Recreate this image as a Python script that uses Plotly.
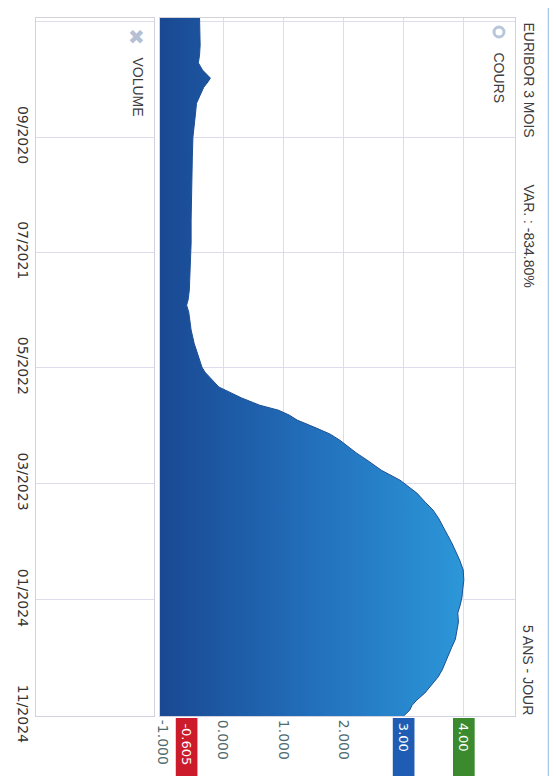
import plotly.graph_objects as go

# Euribor 3 mois, 5 ans - jour
dates = [
    "2019-10-24", "2019-11-25", "2020-01-03", "2020-01-29", "2020-02-19", "2020-03-09",
    "2020-03-22", "2020-03-30", "2020-04-09", "2020-04-23", "2020-05-14", "2020-06-04",
    "2020-07-05", "2020-07-31", "2020-09-01", "2020-10-24", "2020-12-15", "2021-02-14",
    "2021-04-07", "2021-06-07", "2021-07-21", "2021-09-04", "2021-10-08", "2021-11-03",
    "2021-11-17", "2021-12-05", "2021-12-26", "2022-01-21", "2022-02-25", "2022-03-23",
    "2022-04-10", "2022-04-29", "2022-05-12", "2022-05-25", "2022-06-07", "2022-06-20",
    "2022-07-03", "2022-07-19", "2022-08-07", "2022-08-20", "2022-09-02", "2022-09-15",
    "2022-10-06", "2022-10-22", "2022-11-07", "2022-11-25", "2022-12-11", "2022-12-29",
    "2023-01-25", "2023-02-20", "2023-03-10", "2023-03-26", "2023-04-19", "2023-05-10",
    "2023-05-31", "2023-06-23", "2023-07-14", "2023-08-04", "2023-08-28", "2023-09-18",
    "2023-10-14", "2023-11-10", "2023-12-06", "2023-12-24", "2024-01-14", "2024-02-04",
    "2024-02-28", "2024-03-20", "2024-04-13", "2024-05-04", "2024-05-25", "2024-06-15",
    "2024-07-03", "2024-07-22", "2024-08-04", "2024-08-17", "2024-09-02", "2024-09-20",
    "2024-10-04", "2024-10-17", "2024-11-01",
]
values = [
    -0.39, -0.38, -0.38, -0.39, -0.41, -0.34,
    -0.26, -0.21, -0.25, -0.32, -0.38, -0.44,
    -0.46, -0.48, -0.50, -0.51, -0.52, -0.53,
    -0.53, -0.53, -0.54, -0.55, -0.56, -0.58,
    -0.605, -0.57, -0.55, -0.53, -0.48, -0.43,
    -0.39, -0.35, -0.30, -0.22, -0.14, -0.07,
    0.10, 0.31, 0.61, 0.92, 1.10, 1.23,
    1.55, 1.78, 1.94, 2.08, 2.22, 2.39,
    2.63, 2.94, 3.08, 3.22, 3.36, 3.49,
    3.58, 3.66, 3.74, 3.80, 3.87, 3.93,
    3.99, 4.00, 3.98, 3.97, 3.94, 3.90,
    3.91, 3.89, 3.86, 3.80, 3.74, 3.69,
    3.64, 3.57, 3.50, 3.44, 3.35, 3.22,
    3.14, 3.10, 3.00,
]
value_ticks = [-1, 0, 1, 2, 3, 4]
value_tick_text = ["-1.000", "0.000", "1.000", "2.000", "", ""]

title = "EURIBOR 3 MOIS"
variation = "VAR. : -834.80%"
period = "5 ANS - JOUR"

# the page body keeps its 8px margin, so the figure starts at (8, 8)
OFF = 8
W, H = 557 - OFF, 776 - OFF
x_lo, x_hi = -1.047, 4.85
grid = "#dcdcec"
border = "#d2d2de"


def px(x):
    return (x - OFF) / W


def py(y):
    return 1 - (y - OFF) / H


fig = go.Figure()

# baseline at the left edge so the area fills from the axis start
fig.add_trace(go.Scatter(
    x=[x_lo] * len(dates), y=dates, mode="lines",
    line=dict(width=0), hoverinfo="skip", showlegend=False,
))
fig.add_trace(go.Scatter(
    x=values, y=dates, mode="lines",
    line=dict(color="#1d4f95", width=1),
    fill="tonextx",
    fillgradient=dict(
        type="horizontal",
        colorscale=[[0, "#1a4892"], [0.5, "#226fbb"], [1, "#2c97d8"]],
        start=x_lo, stop=max(values),
    ),
    showlegend=False,
))
# empty volume panel
fig.add_trace(go.Scatter(x=[None], y=[None], xaxis="x2", yaxis="y", showlegend=False))

fig.update_layout(
    width=W, height=H,
    margin=dict(l=0, r=0, t=0, b=0),
    paper_bgcolor="white",
    plot_bgcolor="white",
    xaxis=dict(
        domain=[px(160), px(515)], range=[x_lo, x_hi], anchor="y",
        tickvals=value_ticks, ticktext=value_tick_text, tickangle=90,
        tickfont=dict(family="DejaVu Sans", size=14, color="#4d6b6e"),
        showgrid=True, gridcolor=grid, zeroline=False,
        showline=True, linecolor=border, mirror=True,
        ticks="", automargin=False,
    ),
    xaxis2=dict(
        domain=[px(36), px(154)], range=[0, 1], anchor="y",
        showticklabels=False, showgrid=False, zeroline=False,
        showline=True, linecolor=border, mirror=True,
        ticks="", automargin=False,
    ),
    yaxis=dict(
        domain=[py(716), py(18)], type="date", range=[dates[-1], dates[0]],
        anchor="x2", tick0="2020-09-01", dtick="M10", tickformat="%m/%Y",
        tickangle=90,
        tickfont=dict(family="DejaVu Sans", size=14, color="#333333"),
        showgrid=True, gridcolor=grid, zeroline=False,
        showline=True, linecolor=border, mirror="all",
        ticks="", automargin=False,
    ),
    showlegend=False,
)

head_font = dict(family="Liberation Sans, Arial", size=14, color="#3c3c3c")
fig.add_annotation(text=title, x=px(529), y=py(20), xref="paper", yref="paper",
                   xanchor="center", yanchor="top", textangle=90,
                   showarrow=False, font=head_font)
fig.add_annotation(text=variation, x=px(529), y=py(182), xref="paper", yref="paper",
                   xanchor="center", yanchor="top", textangle=90,
                   showarrow=False, font=head_font)
fig.add_annotation(text=period, x=px(528), y=py(717), xref="paper", yref="paper",
                   xanchor="center", yanchor="bottom", textangle=90,
                   showarrow=False, font=head_font)

# legend: COURS (ring) and VOLUME (cross)
fig.add_shape(type="circle", xref="paper", yref="paper",
              x0=px(494), x1=px(504), y0=py(37), y1=py(27),
              line=dict(color="#b8c6da", width=3), fillcolor="white")
fig.add_annotation(text="COURS", x=px(499), y=py(50), xref="paper", yref="paper",
                   xanchor="center", yanchor="top", textangle=90,
                   showarrow=False, font=head_font)
fig.add_annotation(text="✖", x=px(136), y=py(37), xref="paper", yref="paper",
                   xanchor="center", yanchor="middle",
                   showarrow=False, font=dict(family="DejaVu Sans", size=20, color="#b5c0d5"))
fig.add_annotation(text="VOLUME", x=px(137), y=py(55), xref="paper", yref="paper",
                   xanchor="center", yanchor="top", textangle=90,
                   showarrow=False, font=head_font)

# value flags on the axis: min, last, max
flags = [
    (min(values), f"{min(values):.3f}", "#cc1b2b"),
    (values[-1], f"{values[-1]:.2f}", "#1f5db4"),
    (max(values), f"{max(values):.2f}", "#3b8a2d"),
]
for v, label, color in flags:
    fig.add_shape(type="rect", xref="x", yref="paper",
                  x0=v - 0.18, x1=v + 0.18, y0=0, y1=py(718),
                  line=dict(width=0), fillcolor=color, layer="above")
    fig.add_annotation(text=label, x=v, y=py(721), xref="x", yref="paper",
                       xanchor="center", yanchor="top", textangle=90,
                       showarrow=False,
                       font=dict(family="DejaVu Sans", size=13, color="white"))

# page frame on the right
fig.add_shape(type="line", xref="paper", yref="paper",
              x0=px(548.5), x1=px(548.5), y0=0, y1=1,
              line=dict(color="#a9c6e6", width=1.5))

fig.write_html("out.html")
